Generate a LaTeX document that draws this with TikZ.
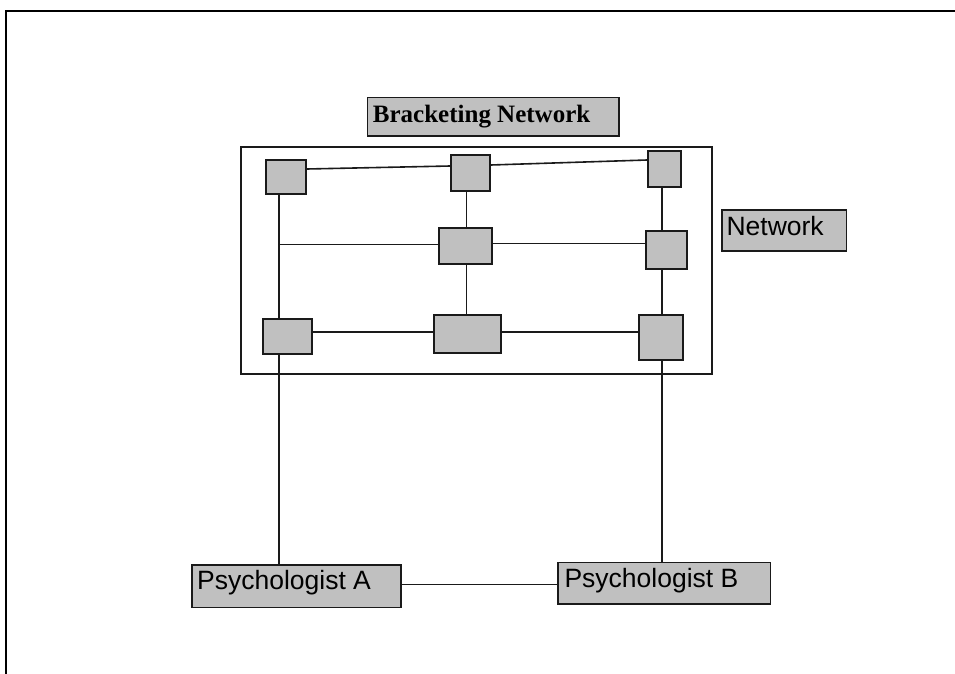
\documentclass[tikz,border=0pt]{standalone}
\usepackage{fontspec}
\newfontfamily\arialf{Liberation Sans}
\newfontfamily\timesf{Liberation Serif}
\definecolor{boxgray}{HTML}{C0C0C0}
\definecolor{ink}{HTML}{1A1A1A}
\begin{document}
\begin{tikzpicture}[x=1pt,y=-1pt,
  sq/.style={draw=ink,fill=boxgray,line width=1.7pt,inner sep=0pt,rectangle},
  lbl/.style={draw=ink,fill=boxgray,line width=1.7pt,inner sep=0pt,rectangle,anchor=north west},
  conn/.style={draw=ink,line width=1.6pt},
  frame/.style={draw=ink,line width=1.6pt}]
\useasboundingbox (0,0) rectangle (955,674);
\fill[white] (0,0) rectangle (955,674);
% page frame
\draw[line width=2.2pt,black] (955,10.7) -- (6.3,10.7) -- (6.3,674);
% network frame
\draw[frame] (241,147) rectangle (712,374);
% small boxes
\node[sq,minimum width=40pt,minimum height=34pt] (b1) at (286,177) {};
\node[sq,minimum width=39pt,minimum height=36pt] (b2) at (470.5,173) {};
\node[sq,minimum width=33pt,minimum height=36pt] (b3) at (664.5,169) {};
\node[sq,minimum width=53pt,minimum height=36pt] (b4) at (465.5,246) {};
\node[sq,minimum width=41pt,minimum height=38pt] (b5) at (666.5,250) {};
\node[sq,minimum width=49pt,minimum height=35pt] (b6) at (287.5,336.5) {};
\node[sq,minimum width=67pt,minimum height=38pt] (b7) at (467.5,334) {};
\node[sq,minimum width=44pt,minimum height=45pt] (b8) at (661,337.5) {};
% labels
\node[lbl,text height=25pt,text depth=13.3pt] (brk) at (366.7,96.7)
  {\makebox[251.6pt][l]{\hspace{5.4pt}\timesf\bfseries\fontsize{25}{28}\selectfont Bracketing Network}};
\node[lbl,text height=25.7pt,text depth=15pt] (net) at (721,209.3)
  {\makebox[124.7pt][l]{\hspace{4.7pt}\arialf\fontsize{26.5}{30}\selectfont Network}};
\node[lbl,text height=24.3pt,text depth=18.4pt] (pa) at (191,564)
  {\makebox[209pt][l]{\hspace{5.3pt}\arialf\fontsize{26.5}{30}\selectfont Psychologist A}};
\node[lbl,text height=25pt,text depth=16.6pt] (pb) at (557.3,561.7)
  {\makebox[212.4pt][l]{\hspace{6.4pt}\arialf\fontsize{26.5}{30}\selectfont Psychologist B}};
% bus coordinates
\coordinate (lx) at (278.7,0);
\coordinate (mx) at (466.3,0);
\coordinate (rx) at (661.7,0);
\coordinate (ry) at (0,331.7);
\coordinate (hy) at (0,244.3);
\coordinate (hy2) at (0,243.3);
% top row (slightly sloped)
\draw[conn] ([yshift=8pt]b1.east) -- ([yshift=7pt]b2.west);
\draw[conn] ([yshift=8pt]b2.east) -- ([yshift=9pt]b3.west);
% left vertical
\draw[conn] (b1.south -| lx) -- (b6.north -| lx);
\draw[conn] (b6.south -| lx) -- (pa.north -| lx);
\draw[conn] (lx |- hy) -- (b4.west |- hy);
% middle vertical
\draw[conn] (b2.south -| mx) -- (b4.north -| mx);
\draw[conn] (b4.south -| mx) -- (b7.north -| mx);
\draw[conn] (b4.east |- hy2) -- (b5.west |- hy2);
% right vertical
\draw[conn] (b3.south -| rx) -- (b5.north -| rx);
\draw[conn] (b5.south -| rx) -- (b8.north -| rx);
\draw[conn] (b8.south -| rx) -- (pb.north -| rx);
% bottom row
\draw[conn] (b6.east |- ry) -- (b7.west |- ry);
\draw[conn] (b7.east |- ry) -- (b8.west |- ry);
% psychologists
\draw[conn] (pa.east |- 0,584.3) -- (pb.west |- 0,584.3);
\end{tikzpicture}
\end{document}
